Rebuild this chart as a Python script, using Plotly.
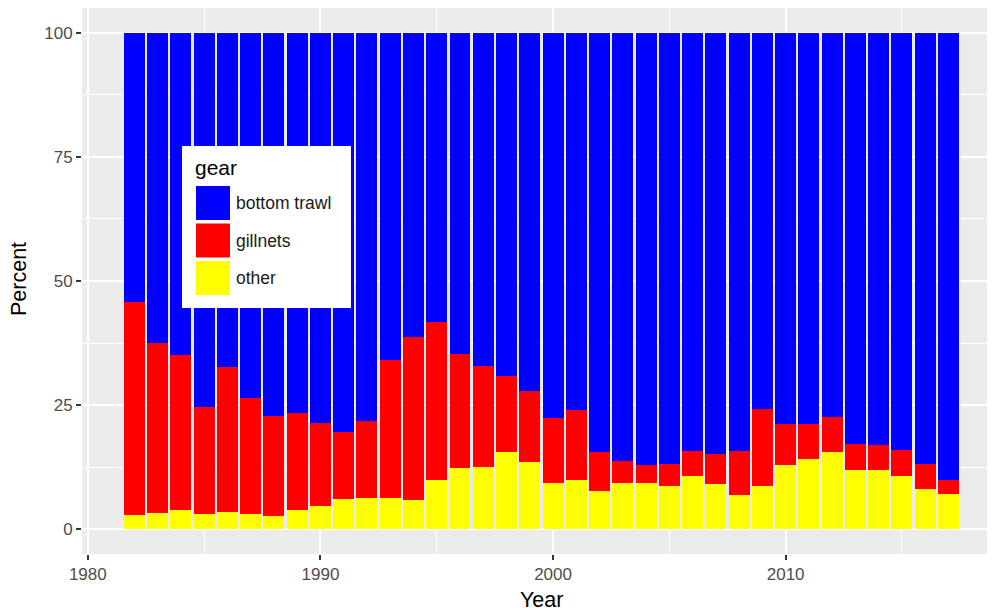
import plotly.graph_objects as go

years = list(range(1982, 2018))
other = [2.8, 3.2, 3.8, 3.0, 3.4, 3.0, 2.6, 3.9, 4.7, 6.0,
         6.2, 6.2, 5.8, 9.9, 12.3, 12.5, 15.5, 13.5, 9.3, 9.9,
         7.7, 9.4, 9.4, 8.6, 10.7, 9.1, 6.9, 8.7, 12.9, 14.2,
         15.5, 11.9, 11.9, 10.8, 8.0, 7.1]
gillnets = [43.0, 34.4, 31.3, 21.7, 29.2, 23.4, 20.2, 19.6, 16.7, 13.5,
            15.6, 27.9, 33.0, 31.9, 22.9, 20.3, 15.4, 14.3, 13.0, 14.1,
            7.9, 4.3, 3.6, 4.5, 5.1, 6.1, 8.9, 15.5, 8.3, 6.9,
            7.2, 5.2, 5.0, 5.1, 5.1, 2.8]
bottom_trawl = [54.2, 62.4, 64.9, 75.3, 67.4, 73.6, 77.2, 76.5, 78.6, 80.5,
                78.2, 65.9, 61.2, 58.2, 64.8, 67.2, 69.1, 72.2, 77.7, 76.0,
                84.4, 86.3, 87.0, 86.9, 84.2, 84.8, 84.2, 75.8, 78.8, 78.9,
                77.3, 82.9, 83.1, 84.1, 86.9, 90.1]

gear_names = ['bottom trawl', 'gillnets', 'other']
gear_colors = {'bottom trawl': '#0000FF', 'gillnets': '#FF0000', 'other': '#FFFF00'}
series = {'other': other, 'gillnets': gillnets, 'bottom trawl': bottom_trawl}

# the page body has an 8px margin, so the figure sits 8px in from the window corner
OFF = 8
W, H = 995 - OFF, 616 - OFF
L, R, T, B = 74, 0, 0, 62
FONT = 'Liberation Sans, Arial, sans-serif'


def px_to_paper(px, py):
    # px, py are window pixels
    px, py = px - OFF, py - OFF
    return (px - L) / (W - L - R), (H - B - py) / (H - T - B)


fig = go.Figure()
# stack from the bottom: other, gillnets, bottom trawl
for name in ['other', 'gillnets', 'bottom trawl']:
    fig.add_trace(go.Bar(x=years, y=series[name], name=name,
                         marker=dict(color=gear_colors[name], line=dict(width=0)),
                         showlegend=False))

# legend drawn by hand so the keys are big like ggplot
x0, y0 = px_to_paper(182, 146)
x1, y1 = px_to_paper(351, 308)
fig.add_shape(type='rect', xref='paper', yref='paper', x0=x0, y0=y1, x1=x1, y1=y0,
              fillcolor='white', line=dict(width=0), layer='above')
tx, ty = px_to_paper(193, 168)
fig.add_annotation(x=tx, y=ty, xref='paper', yref='paper', text='gear', showarrow=False,
                   xanchor='left', yanchor='middle', font=dict(size=21, color='black', family=FONT))
for i, name in enumerate(gear_names):
    top = 186 + i * 37.5
    kx0, ky0 = px_to_paper(196, top)
    kx1, ky1 = px_to_paper(230, top + 34)
    fig.add_shape(type='rect', xref='paper', yref='paper', x0=kx0, y0=ky1, x1=kx1, y1=ky0,
                  fillcolor=gear_colors[name], line=dict(width=0), layer='above')
    lx, ly = px_to_paper(234, top + 17)
    fig.add_annotation(x=lx, y=ly, xref='paper', yref='paper', text=name, showarrow=False,
                       xanchor='left', yanchor='middle',
                       font=dict(size=17.5, color='#1a1a1a', family=FONT))

# axis titles
ax, ay = px_to_paper(541, 600)
fig.add_annotation(x=ax, y=ay, xref='paper', yref='paper', text='Year', showarrow=False,
                   xanchor='center', yanchor='middle', font=dict(size=21.5, color='black', family=FONT))
ax, ay = px_to_paper(19, 279)
fig.add_annotation(x=ax, y=ay, xref='paper', yref='paper', text='Percent', showarrow=False,
                   textangle=-90, xanchor='center', yanchor='middle',
                   font=dict(size=21.5, color='black', family=FONT))

fig.update_layout(
    width=W, height=H,
    margin=dict(l=L, r=R, t=T, b=B),
    barmode='stack', bargap=0.1,
    plot_bgcolor='#EBEBEB', paper_bgcolor='white',
    font=dict(family=FONT),
    xaxis=dict(range=[1979.75, 2019.0], tickvals=[1980, 1990, 2000, 2010], automargin=False,
               showgrid=True, gridcolor='white', gridwidth=1.8, zeroline=False,
               minor=dict(showgrid=True, gridcolor='white', gridwidth=0.9, tickvals=[1985, 1995, 2005, 2015]),
               ticks='outside', ticklen=5, tickcolor='#333333', tickwidth=1.5,
               tickfont=dict(size=17, color='#4D4D4D')),
    yaxis=dict(range=[-5, 105], tickvals=[0, 25, 50, 75, 100], automargin=False,
               showgrid=True, gridcolor='white', gridwidth=1.8, zeroline=False,
               minor=dict(showgrid=True, gridcolor='white', gridwidth=0.9, tickvals=[12.5, 37.5, 62.5, 87.5]),
               ticks='outside', ticklen=5, tickcolor='#333333', tickwidth=1.5,
               tickfont=dict(size=17, color='#4D4D4D')),
)

fig.write_html('out.html')
